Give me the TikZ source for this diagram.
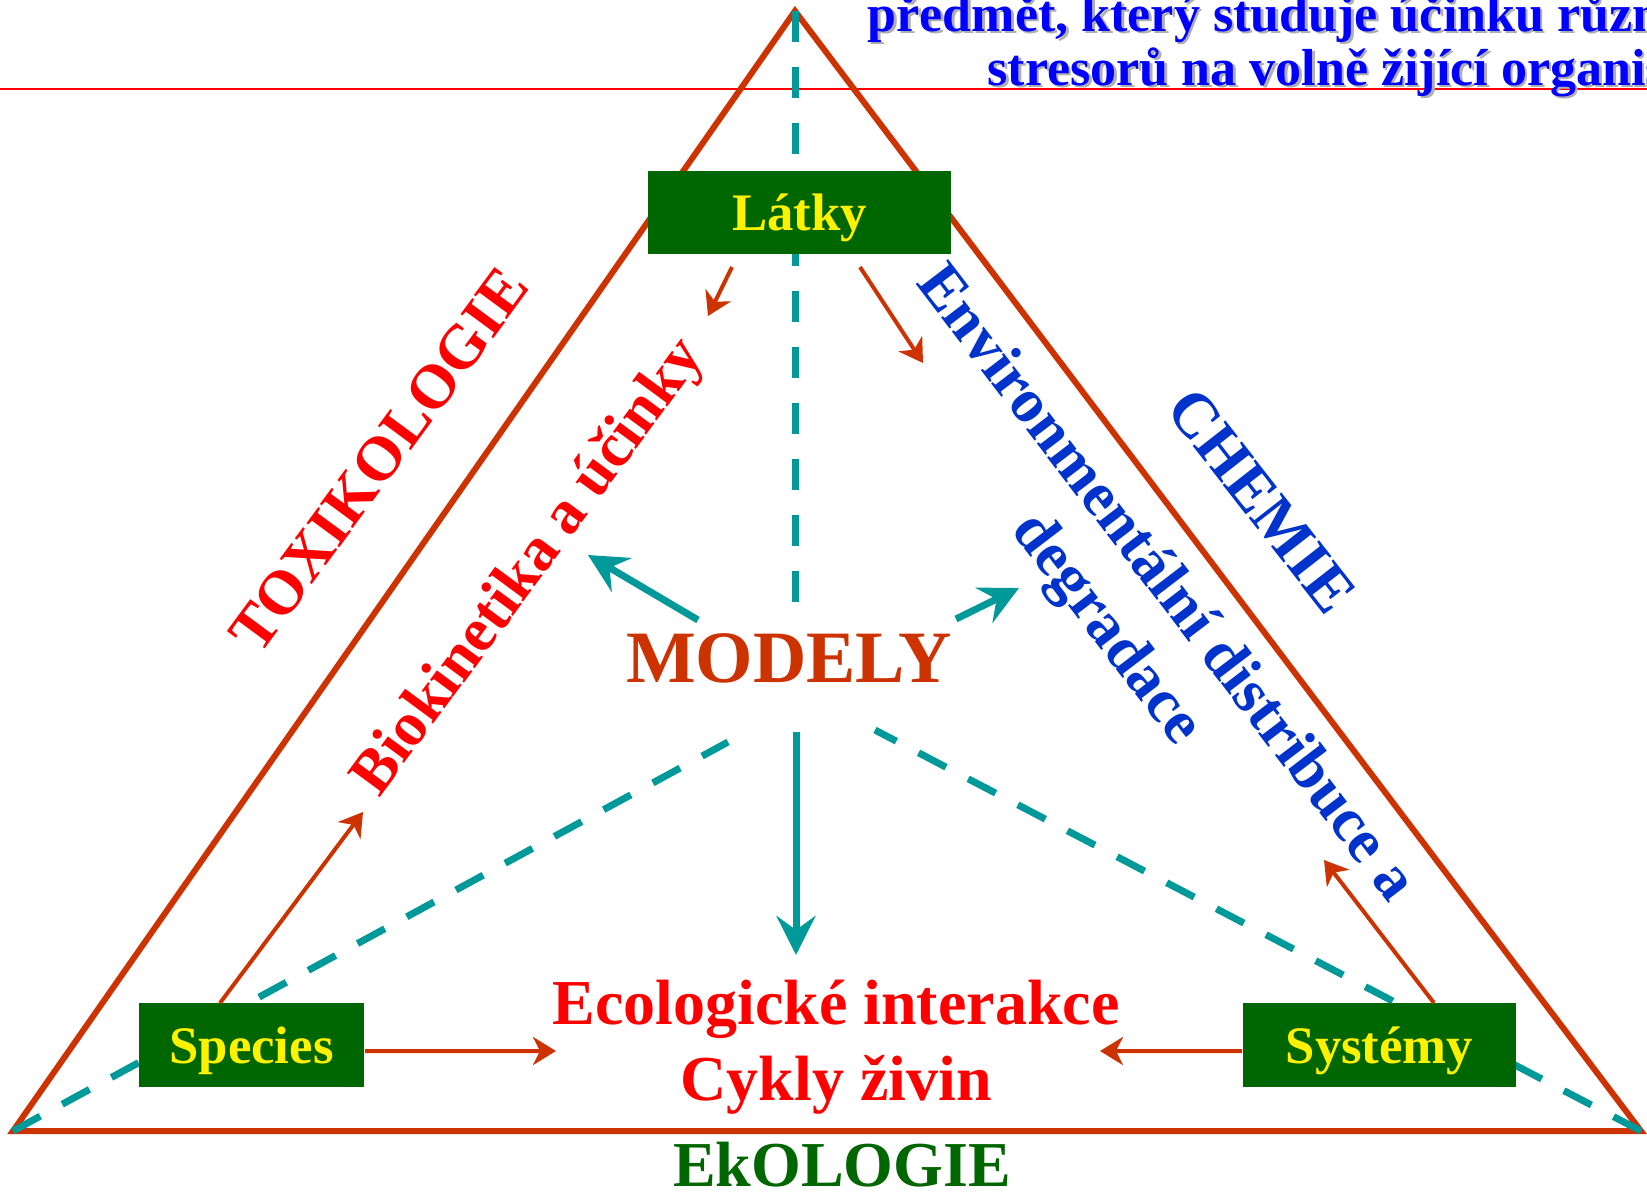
\documentclass[tikz,border=0pt]{standalone}
\usepackage{fontspec}
\setmainfont{Liberation Serif}
\usepackage{tikz}
\usepackage{xcolor}
\usetikzlibrary{arrows.meta, positioning}
\definecolor{rust}{RGB}{204,51,0}
\definecolor{boxgreen}{RGB}{0,102,0}
\definecolor{tealline}{RGB}{0,153,153}
\definecolor{chemblue}{RGB}{0,51,204}
\definecolor{shadowgrey}{RGB}{175,175,175}
\tikzstyle{box} = [rectangle, fill=boxgreen, text=yellow, inner sep=0pt, minimum height=0.84cm, text height=11.5pt, text depth=1pt, font=\fontsize{15}{18}\selectfont\bfseries]
\tikzstyle{side} = [line width=0.06cm, rust]
\tikzstyle{topline} = [line width=0.02cm, red]
\tikzstyle{dashline} = [line width=0.07cm, tealline, dash pattern=on 0.31cm off 0.25cm]
\tikzstyle{arrow} = [line width=0.04cm, rust, -{Stealth[length=0.23cm, width=0.28cm, inset=0.07cm]}]
\tikzstyle{modelarrow} = [line width=0.07cm, tealline, -{Stealth[length=0.39cm, width=0.39cm, inset=0.14cm]}]
\tikzstyle{sidetext} = [inner sep=0pt, font=\fontsize{17.7}{21}\selectfont\bfseries]
\tikzstyle{bottomtext} = [inner sep=0pt, anchor=base, font=\fontsize{18.2}{21}\selectfont\bfseries]
\tikzstyle{toptext} = [inner sep=0pt, text=blue, font=\fontsize{14.8}{18}\selectfont\bfseries]

\begin{document}
\begin{tikzpicture}[x=0.01cm, y=-0.01cm]
    \useasboundingbox (0,0) rectangle (1647,1193);
    \clip (0,0) rectangle (1647,1193);

        % Corners
        \coordinate (apex) at (795,11);
        \coordinate (cornerL) at (13,1131);
        \coordinate (cornerR) at (1641,1131);
        \coordinate (dashTop) at (795,602);
        \coordinate (dashL) at (728,742);
        \coordinate (dashR) at (875,730);

        % Frame
        \draw [topline] (0,89) -- (1647,89);
        \draw [side] (cornerL) -- (apex) -- (cornerR) -- cycle;
        \draw [dashline] (apex) -- (dashTop);
        \draw [dashline] (cornerL) -- (dashL);
        \draw [dashline] (cornerR) -- (dashR);

        % Nodes
        \node [toptext, text=shadowgrey, anchor=base west] at (869.5,33.5) {předmět, který studuje účinku různých};
        \node [toptext, text=shadowgrey, anchor=base west] at (989.5,87.5) {stresorů na volně žijící organismy};
        \node (predmet) [toptext, anchor=base west] at (867,31) {předmět, který studuje účinku různých};
        \node (stresoru) [toptext, anchor=base west] at (987,85) {stresorů na volně žijící organismy};

        \node (latky) [box, minimum width=3.03cm, minimum height=0.83cm] at (799.5,212.5) {Látky};
        \node (species) [box, minimum width=2.25cm] at (251.5,1045) {Species};
        \node (systemy) [box, minimum width=2.73cm] at (1379.5,1045) {Systémy};

        \node (modely) [inner sep=0pt, anchor=base, text=rust, font=\fontsize{21}{24}\selectfont\bfseries] at (789,682) {MODELY};
        \node (ecointer) [bottomtext, text=red] at (836,1024) {Ecologické interakce};
        \node (cykly) [bottomtext, text=red] at (836,1100) {Cykly živin};
        \node (ekologie) [bottomtext, text=boxgreen] at (842,1186) {EkOLOGIE};

        \node (toxikologie) [sidetext, text=red, rotate=53.6] at (379,460) {TOXIKOLOGIE};
        \node (biokinetika) [sidetext, text=red, rotate=53.6] at (530,568) {Biokinetika a účinky};
        \node (envdist) [sidetext, text=chemblue, rotate=-52.6] at (1169,581) {Environmentální distribuce a};
        \node (degradace) [sidetext, text=chemblue, rotate=-52.6] at (1105,630) {degradace};
        \node (chemie) [sidetext, text=chemblue, rotate=-52, font=\fontsize{18}{21}\selectfont\bfseries] at (1262,501) {CHEMIE};

        % Arrow ends
        \coordinate (latkyL) at (732,267);
        \coordinate (latkyLtip) at (708,316);
        \coordinate (latkyR) at (860,267);
        \coordinate (latkyRtip) at (923,363);
        \coordinate (speciesUp) at (220,1003);
        \coordinate (speciesUptip) at (363,812);
        \coordinate (systemyUp) at (1434,1003);
        \coordinate (systemyUptip) at (1324,860);
        \coordinate (speciesRtip) at (556,1051);
        \coordinate (systemyLtip) at (1100,1051);
        \coordinate (modelyUL) at (698,620);
        \coordinate (modelyULtip) at (588,555);
        \coordinate (modelyUR) at (956,619);
        \coordinate (modelyURtip) at (1019,588);
        \coordinate (modelyD) at (796,732);
        \coordinate (modelyDtip) at (796,955);

        % Arrows
        \draw [arrow] (latkyL) -- (latkyLtip);
        \draw [arrow] (latkyR) -- (latkyRtip);
        \draw [arrow] (speciesUp) -- (speciesUptip);
        \draw [arrow] (systemyUp) -- (systemyUptip);
        \draw [arrow] ([yshift=-0.06cm]species.east) -- (speciesRtip);
        \draw [arrow] ([yshift=-0.06cm]systemy.west) -- (systemyLtip);
        \draw [modelarrow] (modelyUL) -- (modelyULtip);
        \draw [modelarrow] (modelyUR) -- (modelyURtip);
        \draw [modelarrow] (modelyD) -- (modelyDtip);

\end{tikzpicture}
\end{document}
